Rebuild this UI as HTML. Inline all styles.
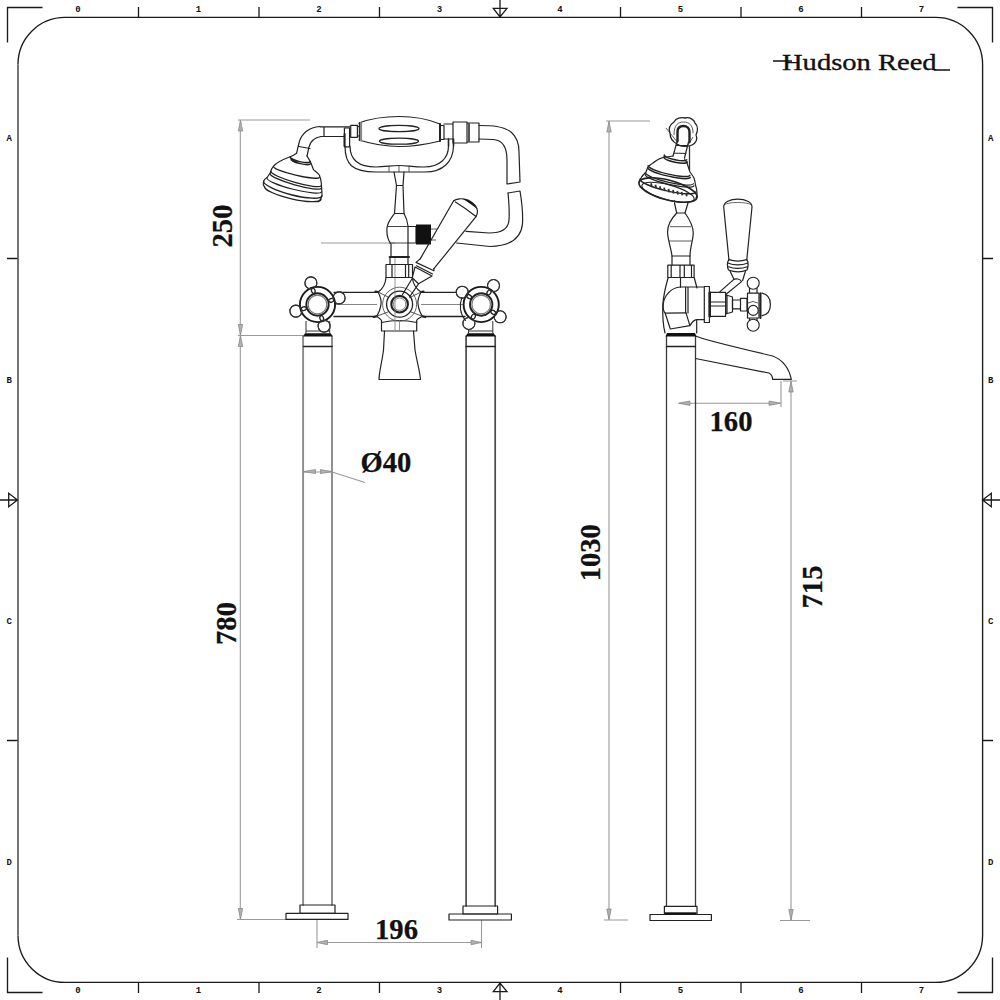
<!DOCTYPE html>
<html><head><meta charset="utf-8">
<style>
html,body{margin:0;padding:0;background:#fff;width:1000px;height:1000px;overflow:hidden}
svg{display:block}
.fr{fill:none;stroke:#1a1a1a;stroke-width:1.35}
.rl{font-family:"Liberation Mono",monospace;font-size:9px;font-weight:bold;fill:#111;text-anchor:middle}
.dm{fill:none;stroke:#9a9a9a;stroke-width:1.1}
.ar{fill:#b0b0b0;stroke:#8a8a8a;stroke-width:0.8}
.tx{font-family:"Liberation Serif",serif;font-weight:bold;font-size:28.6px;fill:#111;stroke:#111;stroke-width:0.25}
.d{fill:none;stroke:#222;stroke-width:1.2;stroke-linejoin:round;stroke-linecap:round}
.dt{fill:none;stroke:#333;stroke-width:0.8}
.k{fill:#111;stroke:none}
</style></head><body>
<svg width="1000" height="1000" viewBox="0 0 1000 1000">
<!-- FRAME -->
<g id="frame">
<path class="fr" d="M65 17.4 H935.5 A47 47 0 0 1 982.6 64.5 V935.5 A47 47 0 0 1 935.5 982.4 H65 A47 47 0 0 1 18 935.5 M18 64.5 A47 47 0 0 1 65 17.4"/>
<path d="M18 64.5 V935.5" stroke="#6e6e6e" stroke-width="1.9" fill="none"/>
<path class="fr" d="M42.5 7.5 H7.5 V42.5 M957.5 7.5 H992.5 V42.5 M42.5 992.5 H7.5 V957.5 M957.5 992.5 H992.5 V957.5"/>
<!-- ticks top/bottom -->
<path class="fr" style="stroke-width:1.3" d="M138.5 7V17.5 M259 7V17.5 M379.5 7V17.5 M620.5 7V17.5 M741 7V17.5 M861.5 7V17.5
M138.5 982.5V993 M259 982.5V993 M379.5 982.5V993 M620.5 982.5V993 M741 982.5V993 M861.5 982.5V993
M7 258.5H17.5 M7 740.5H17.5 M982.5 258.5H993 M982.5 740.5H993"/>
<!-- center arrows -->
<path class="fr" style="stroke-width:1.3" d="M500 0V17 M493.3 8.3H507 L500 17Z M500 1000V983 M493.3 991.7H507 L500 983Z
M0 500H17.5 M8.7 493.3V506.8 L17.5 500Z M1000 500H982.5 M991.3 493.3V506.8 L982.5 500Z"/>
<text class="rl" x="78" y="11.9">0</text>
<text class="rl" x="78" y="992.9">0</text>
<text class="rl" x="198.5" y="11.9">1</text>
<text class="rl" x="198.5" y="992.9">1</text>
<text class="rl" x="319" y="11.9">2</text>
<text class="rl" x="319" y="992.9">2</text>
<text class="rl" x="439.5" y="11.9">3</text>
<text class="rl" x="439.5" y="992.9">3</text>
<text class="rl" x="560" y="11.9">4</text>
<text class="rl" x="560" y="992.9">4</text>
<text class="rl" x="680.5" y="11.9">5</text>
<text class="rl" x="680.5" y="992.9">5</text>
<text class="rl" x="801" y="11.9">6</text>
<text class="rl" x="801" y="992.9">6</text>
<text class="rl" x="921.5" y="11.9">7</text>
<text class="rl" x="921.5" y="992.9">7</text>
<text class="rl" x="9.3" y="141.3">A</text>
<text class="rl" x="990.8" y="141.3">A</text>
<text class="rl" x="9.3" y="382.9">B</text>
<text class="rl" x="990.8" y="382.9">B</text>
<text class="rl" x="9.3" y="624">C</text>
<text class="rl" x="990.8" y="624">C</text>
<text class="rl" x="9.3" y="865">D</text>
<text class="rl" x="990.8" y="865">D</text>
</g>
<!-- LOGO -->
<g id="logo">
<text transform="translate(782,70) scale(1.19,1)" x="0" y="0" style="font-family:'Liberation Serif',serif;font-size:24px;fill:#111;stroke:#111;stroke-width:0.35">Hudson Reed</text>
<path d="M773 61H792 M934 70H950" stroke="#111" stroke-width="1.6"/>
</g>
<!-- DIMENSIONS -->
<g id="dims">
<path class="dm" d="M238 120H310 M240.3 120V335.5 M238 335.5H305 M240.3 335.5V919.5 M237 919.5H286 M321 243H395"/>
<path class="dm" d="M317 920V948 M481.5 920V948 M317 942.5H481.5"/>
<path class="dm" d="M606 121H650 M609 121V920 M604 920H628"/>
<path class="dm" d="M679 403.2H781 M781 381V407 M783 381H797 M791 381V920.5 M780 920.5H810"/>
<path class="dm" d="M332 472L365 482.4 M303.5 472H332"/>
<path class="ar" d="M240.5 120.5L238.3 131.0L242.7 131.0Z M240.5 335L238.3 324.5L242.7 324.5Z M240.5 336L238.3 346.5L242.7 346.5Z M240.5 919L238.3 908.5L242.7 908.5Z M317 942.5L327.5 940.3L327.5 944.7Z M481.5 942.5L471.0 940.3L471.0 944.7Z M609 121.5L606.8 132.0L611.2 132.0Z M609 919.5L606.8 909.0L611.2 909.0Z M678.5 403.2L690.0 401.0L690.0 405.4Z M780.5 403.2L769.0 401.0L769.0 405.4Z M791 381.5L788.8 392.0L793.2 392.0Z M791 920L788.8 909.5L793.2 909.5Z M303.5 471.6L315.5 469.6L315.5 473.6Z M332 471.6L320.5 469.6L320.5 473.6Z"/>
</g>
<g id="dimtext">
<text class="tx" transform="translate(232,226) rotate(-90)" text-anchor="middle">250</text>
<text class="tx" transform="translate(236,623.5) rotate(-90)" text-anchor="middle">780</text>
<text class="tx" transform="translate(599.5,552.7) rotate(-90)" text-anchor="middle">1030</text>
<text class="tx" transform="translate(822,587) rotate(-90)" text-anchor="middle">715</text>
<text class="tx" x="396.5" y="938.6" text-anchor="middle">196</text>
<text class="tx" x="731" y="430.7" text-anchor="middle">160</text>
<text class="tx" x="386" y="472.4" text-anchor="middle">Ø40</text>
</g>
<!-- LEFT VIEW -->
<g id="left">
<path class="d" d="M303.1 336V905 M332 336V905" style="stroke:#8c8c8c;stroke-width:1.9"/>
<path class="d" d="M303.5 346.5H332.2" style="stroke-width:1.3"/>
<path class="k" d="M305.0 333.3H330.7L332.7 336.5H303.0Z"/>
<path class="d" d="M300 905H335V913.4H300Z" />
<path class="d" d="M286 913.4H348V919.4H286Z" />
<path class="dt" d="M306.0 321V333.3 M329.7 321V333.3 M306.0 331H329.7" style="stroke:#333;stroke-width:1"/>
<path class="d" d="M466.1 336V906 M495.2 336V906" style="stroke:#4a4a4a;stroke-width:1.7"/>
<path class="d" d="M466 346.5H495.3" style="stroke-width:1.3"/>
<path class="k" d="M467.5 333.3H493.8L495.8 336.5H465.5Z"/>
<path class="d" d="M463 906H497.6V914H463Z" />
<path class="d" d="M449 914H511.4V920H449Z" />
<path class="dt" d="M468.5 321V333.3 M492.8 321V333.3 M468.5 331H492.8" style="stroke:#333;stroke-width:1"/>
<path class="d" d="M334 292.3H378 M421 292.3H464 M334 316.5H377 M422 316.5H465" style="stroke-width:1.3"/>
<path class="dt" d="M326 304.5H377 M421 304.5H470" style="stroke:#666"/>
<circle cx="310.89" cy="282.89" r="6" fill="#fff" stroke="#333" stroke-width="1.1"/>
<circle cx="339.11" cy="297.89" r="6" fill="#fff" stroke="#333" stroke-width="1.1"/>
<circle cx="324.11" cy="326.11" r="6" fill="#fff" stroke="#333" stroke-width="1.1"/>
<circle cx="295.89" cy="311.11" r="6" fill="#fff" stroke="#333" stroke-width="1.1"/>
<circle cx="317.5" cy="304.5" r="17.6" fill="#fff" stroke="#1a1a1a" stroke-width="1.9"/>
<circle class="d" cx="317.50" cy="304.50" r="11.2" style="stroke-width:1.9"/>
<circle class="dt" cx="317.50" cy="304.50" r="9.3" style="stroke:#777;stroke-width:1.2"/>
<ellipse cx="313.29" cy="290.73" rx="2.6" ry="1.8" transform="rotate(73.0 313.29 290.73)" fill="#fff" stroke="#222" stroke-width="1.3"/>
<circle cx="310.89" cy="282.89" r="6" fill="none" stroke="#333" stroke-width="1.1" stroke-dasharray="0"/>
<ellipse cx="331.27" cy="300.29" rx="2.6" ry="1.8" transform="rotate(163.0 331.27 300.29)" fill="#fff" stroke="#222" stroke-width="1.3"/>
<circle cx="339.11" cy="297.89" r="6" fill="none" stroke="#333" stroke-width="1.1" stroke-dasharray="0"/>
<ellipse cx="321.71" cy="318.27" rx="2.6" ry="1.8" transform="rotate(253.0 321.71 318.27)" fill="#fff" stroke="#222" stroke-width="1.3"/>
<circle cx="324.11" cy="326.11" r="6" fill="none" stroke="#333" stroke-width="1.1" stroke-dasharray="0"/>
<ellipse cx="303.73" cy="308.71" rx="2.6" ry="1.8" transform="rotate(343.0 303.73 308.71)" fill="#fff" stroke="#222" stroke-width="1.3"/>
<circle cx="295.89" cy="311.11" r="6" fill="none" stroke="#333" stroke-width="1.1" stroke-dasharray="0"/>
<circle cx="493.51" cy="285.55" r="6" fill="#fff" stroke="#333" stroke-width="1.1"/>
<circle cx="500.15" cy="316.81" r="6" fill="#fff" stroke="#333" stroke-width="1.1"/>
<circle cx="468.89" cy="323.45" r="6" fill="#fff" stroke="#333" stroke-width="1.1"/>
<circle cx="462.25" cy="292.19" r="6" fill="#fff" stroke="#333" stroke-width="1.1"/>
<circle cx="481.2" cy="304.5" r="17.6" fill="#fff" stroke="#1a1a1a" stroke-width="1.9"/>
<circle class="d" cx="481.20" cy="304.50" r="11.2" style="stroke-width:1.9"/>
<circle class="dt" cx="481.20" cy="304.50" r="9.3" style="stroke:#777;stroke-width:1.2"/>
<ellipse cx="489.04" cy="292.42" rx="2.6" ry="1.8" transform="rotate(123.0 489.04 292.42)" fill="#fff" stroke="#222" stroke-width="1.3"/>
<circle cx="493.51" cy="285.55" r="6" fill="none" stroke="#333" stroke-width="1.1" stroke-dasharray="0"/>
<ellipse cx="493.28" cy="312.34" rx="2.6" ry="1.8" transform="rotate(213.0 493.28 312.34)" fill="#fff" stroke="#222" stroke-width="1.3"/>
<circle cx="500.15" cy="316.81" r="6" fill="none" stroke="#333" stroke-width="1.1" stroke-dasharray="0"/>
<ellipse cx="473.36" cy="316.58" rx="2.6" ry="1.8" transform="rotate(303.0 473.36 316.58)" fill="#fff" stroke="#222" stroke-width="1.3"/>
<circle cx="468.89" cy="323.45" r="6" fill="none" stroke="#333" stroke-width="1.1" stroke-dasharray="0"/>
<ellipse cx="469.12" cy="296.66" rx="2.6" ry="1.8" transform="rotate(393.0 469.12 296.66)" fill="#fff" stroke="#222" stroke-width="1.3"/>
<circle cx="462.25" cy="292.19" r="6" fill="none" stroke="#333" stroke-width="1.1" stroke-dasharray="0"/>
<path class="d" d="M462 297.5 A22.3 22.3 0 0 0 465.5 320.5" style="stroke-width:1.1"/>
<path class="d" d="M386 277.5 C385.5 284 382.5 289 378.2 292 C381 298 381.5 301 381 304.2 C380.5 308 379 313 376.5 316.3 C379 318 381 319.5 381.5 320.5 L381.5 331 H416.7 V320.5 C417 319.5 419 318 422.5 316.3 C420 313 418.5 308 418 304.2 C417.5 301 418 298 421 292 C416.5 289 413 284 412.3 277.5" />
<path class="d" d="M378.2 292 L375.5 291.5 M421 292 L423.5 291.5 M376.5 316.3 L373.8 317 M422.5 316.3 L425.2 317" style="stroke-width:2.2"/>
<path class="d" d="M381.5 322.5 Q399 318.5 416.7 322.5" />
<circle class="dt" cx="399.60" cy="304.20" r="17" style="stroke:#555;stroke-width:0.9"/>
<path class="dt" d="M378.2 292 L388 297 M421 292 L411 297 M376.5 316.3 L388 312 M422.5 316.3 L411 312" style="stroke:#444;stroke-width:0.9"/>
<circle cx="399.6" cy="304.2" r="13" fill="#fff" stroke="#222" stroke-width="1.3"/>
<circle class="d" cx="399.60" cy="304.20" r="8.3" style="stroke-width:2.1"/>
<circle class="dt" cx="399.60" cy="304.20" r="6.2" style="stroke:#666"/>
<path class="dt" d="M399.5 320V331 M395 258V330" style="stroke:#777"/>
<path class="d" d="M384.5 331 L383.5 350 C382 362 379 372 379 379.5 H420.5 C420 372 417 362 415 350 L413.5 331" />
<path class="d" d="M386 264.5H412.5V277.5H386Z M390 257V264.5 M408 257V264.5 M389 257H409 M405.5 264.5V277.5 M408.7 264.5V277.5 M392 264.5V277.5" />
<path class="d" d="M394.5 213.5 C391 218 387.5 222 387 228 C386.5 234 388 240 391 244 L391 257 M404 213.5 C406 217 407.5 221 408 226 L408 257 M394.5 213.5H404" />
<path class="dt" d="M387.5 226.5H408 M389 243H408" style="stroke:#444;stroke-width:1"/>
<path class="d" d="M390 257H409" style="stroke-width:1.8"/>
<path class="d" d="M394 172 L396.5 185.5 L394.5 213.5 M404 172 L403 185.5 L404 213.5 M396.5 185.5H403" />
<path class="d" d="M408 226.5H416V243H408" />
<path class="k" d="M416 224.5H431V244.5H416Z"/>
<path class="dt" d="M431 229H437 M431 240H436" />
<path class="d" d="M453.5 201 L420.2 258.9 M476 216.7 L433.9 268.7" />
<path class="d" d="M453.5 201 C456 198.5 462 198 468 200 C473 202.5 477 207 477.5 211 C477.5 214 476.5 216 476 216.7 M455.5 202 C462 206 469 211 476 216.5" />
<path class="k" d="M462 198.6 C469 199.5 475 204 476.5 208.5 C472 205 467 201.5 462 198.6Z"/>
<path class="d" d="M416 262.4 L433.9 270.8 M416 262.4 L420.2 258.9 M433.9 270.8 L433.9 268.7 M416.5 265.8 L432.5 274 M415 267 L432 276 M415 267 L412.2 277.8 M432 276 L418.5 283.8 M412.2 277.8 L418.5 283.8 M412.2 278.5 L402.4 294.8 M418.5 283.8 L409.5 297" />
<path class="d" d="M479 125.5 C492 125.5 503 126 511 132 C517 137 519 145 519 152 L520 182 L507 184 L507 160 C507 148 503 140 493 139.5 L479 139" />
<path class="d" d="M508 193 L520 191 C522 203 523 215 522.5 224 C521 238 510 246 490 246.5 L456.5 243" />
<path class="d" d="M508 193 C509 203 509.5 213 509 220 C508.5 229 502 233 489 233 L466 231.3" />
<path class="d" d="M359 123 C372 118 385 116.5 399 116.5 C413 116.5 428 119 440 124 M359 140 C375 145 388 146.5 399 146.5 C412 146.5 428 144 440 141" />
<path class="d" d="M359.5 123V140" style="stroke-width:1.4"/>
<path class="d" d="M361 123V140.5" style="stroke:#888;stroke-width:2.2"/>
<path class="d" d="M440 124V141" style="stroke-width:2"/>
<ellipse class="d" cx="399" cy="128.5" rx="20" ry="3.2" transform="rotate(0 399 128.5)" style="stroke-width:1.3"/>
<ellipse class="d" cx="399" cy="141.2" rx="19.5" ry="3" transform="rotate(0 399 141.2)" style="stroke-width:1.3"/>
<path class="d" d="M350.7 125.4H357.4V137.3H350.7Z M357.4 126.5H359.5 M357.4 136H359.5" />
<path class="d" d="M440.5 125.5H444V139.5H440.5 M444 124H453V139H444 M453 122H467V143H453Z M467 123H479V142H467 M479 123V142" />
<path class="dt" d="M469 123V142" style="stroke:#555;stroke-width:2"/>
<path class="d" d="M344.4 128H349.6V146.8H344.4Z" />
<path class="d" d="M344.6 134V146" style="stroke-width:2"/>
<path class="d" d="M345 146 C345 164 352 172 376 172 L425 172 C443 172 453 162 453.5 146 M350 146 C350 159 357 167 376 167 C385 167 391 165.5 399 165.5 C407 165.5 413 167 424 167 C440 167 448.5 158 448.5 146" />
<path class="d" d="M448.5 139V146 M453.5 139V146" style="stroke-width:1.6"/>
<path class="dt" d="M389 166V172 M409 166V172 M399 165.5V172" />
<path class="d" d="M320 126.8H350 M321 136.5H344.4 M324 126.8V136.5" />
<path class="d" d="M320 126.5 C309 127 301 134 299 143 L296.6 153.2 M321 136.5 C315 137.5 310.5 141 309 147 L307 156 M299 146.5 L310 148.5" />
<path class="d" d="M296.6 153.2 C294 155 292 156 290.2 156.8 C283 159.5 276 162.5 273.4 166.4 C271.5 168.5 271 170 270.6 172 C269.5 174.5 268 176 267 177.6 C265 178.8 263.8 180 263.4 182 C263 184 263.5 186 264.5 187" />
<path class="d" d="M307 156 C308.5 158.5 309.8 160.5 310.2 161.6 C311.5 164 312.5 167 313.4 169.6 C315.5 171.5 318 173 319.4 175.2 C320.5 178 321 180 321.2 182.5 C321.5 186 321.8 190 322 194 C322 197 320.5 200 318.2 201.8" />
<path class="d" d="M290.2 156.8 A10.28 2.5 13.50 0 0 310.2 161.6 M291 158.8 A10.09 2.5 13.76 0 0 310.6 163.6" style="stroke-width:1.5"/>
<path class="d" d="M273.4 166.4 A23.63 3.5 13.21 0 0 319.4 177.2" />
<path class="d" d="M271 171.4 A26.02 4 16.07 0 0 321 185.8 M270.4 173.8 A26.40 4 15.83 0 0 321.2 188.2" style="stroke-width:1.3"/>
<path class="d" d="M267 178 A28.06 4.5 14.23 0 0 321.4 191.8" />
<path class="d" d="M263.6 181 A30.15 6.5 14.40 0 0 322 196" style="stroke-width:1.4"/>
<path class="d" d="M264.5 186.5 A28.99 6 12.96 0 0 321 199.5" style="stroke-width:1.3"/>

</g>
<!-- RIGHT VIEW -->
<g id="right">
<path class="d" d="M666.5 336V906.3 M695.5 336V906.3" style="stroke:#3a3a3a;stroke-width:1.3"/>
<path class="d" d="M666.4 346.5H695.5" style="stroke-width:1.3"/>
<path class="k" d="M667 333H695L696.5 336.5H665.5Z"/>
<path class="d" d="M664.4 906.3H697V914.5H664.4Z M650 914.5H711.4V920.5H650Z" />
<path class="k" d="M665 912.3H696.5V914.5H665Z"/>
<path class="d" d="M695.5 336 C702 339 730 346 772.6 356 C783 360 789 368 791.3 379.4 M695.5 358.5 L769 373 C771 374 772.5 376 772.7 379.4 L791.3 379.4" />
<path class="d" d="M668.2 277.5 C666 285 663.5 295 662.8 305 C662.5 315 663 325 665 333 M694.2 277.5 L697 288 M680.5 277.5V287" />
<path class="d" d="M680.5 287 C671 287.5 663.5 296 663.2 305 C663 309 664 312 665.2 313.2 L686 312.8" />
<path class="d" d="M685.6 287V313 M688 287V313 M680.5 287H703.5" />
<path class="d" d="M686 312.8 L689.9 325.6 C692 322 694 320 696.7 319.6 L704.3 319.6 M665.2 313.2 L670.3 329 L689.9 325.6 M696.7 319.6V333" />
<path class="d" d="M667.8 265.2H694.1V277.5H667.8Z M671.2 265.2V277.5 M680 265.2V277.5 M684.3 265.2V277.5 M691.5 265.2V277.5" />
<path class="d" d="M672 256H690 M672 256V264.8 M690 256V264.8" />
<path class="d" d="M676.7 213 C670 220 667 228 667.7 234 C668 240 671 248 672 256 M685 213 C690 220 693.5 228 693.2 234 C693 240 690 248 690 256 M676.7 213H685" />
<path class="dt" d="M670 226.7H691 M669 241H692" />
<path class="d" d="M674.5 203 L676.7 213 M688 203 L685 213" />
<path class="d" d="M704.3 286.5H709.4V322.5H704.3Z" />
<path class="d" d="M709 292.4H725.6V316.4H709Z M709 302H725.6 M709 306H725.6" style="stroke-width:1.1"/>
<path class="d" d="M710 292.4V316.4" style="stroke-width:2"/>
<path class="d" d="M725.6 294.8 L732.5 297 V312 L725.6 314Z M727 295.5V313.5" />
<path class="d" d="M732.5 300H740.5V308.8H732.5Z M740.5 298.4H747V311H740.5Z" />
<path class="d" d="M747.5 293.2H759V318H747.5Z M749.5 288V293.2 M757 288V293.2 M749.5 318V321 M757 318V321" />
<path class="d" d="M762 293.2 C768 294.5 770.4 299 770.4 304.4 C770.4 310 768 314.5 762 315.6" style="stroke-width:1.2"/>
<path class="d" d="M760.5 293.2V318" style="stroke-width:2"/>
<circle cx="753.2" cy="283.2" r="6" fill="#fff" stroke="#222" stroke-width="1.1"/>
<circle cx="753.2" cy="325.2" r="6" fill="#fff" stroke="#222" stroke-width="1.1"/>
<circle cx="753.2" cy="310.4" r="5" fill="#fff" stroke="#222" stroke-width="1.1"/>
<path class="dt" d="M748 303 Q753 300 758 303" />
<path class="d" d="M720 291.6 L733.6 279.6 C736 278 740 279 741.6 281.6 L726.4 294" />
<path class="d" d="M723.7 207 C723.7 202 730 199.2 737.8 199.2 C745.5 199.2 752 202 752 207 L746.8 259.6 M723.7 207 L728.9 259.6" />
<path class="dt" d="M724.5 204.5 C730 201.8 745 201.8 751.2 204.5" style="stroke:#444"/>
<path class="d" d="M728.9 259.6 C727 262 727 267 728.5 270 C735 272.5 741 272.5 747 270 C748.5 267 748.5 262 746.8 259.6 Q737.8 262.5 728.9 259.6 M727.6 263 Q737.8 266.8 748 263 M727.8 266.5 Q737.8 270.3 748 266.5" />
<path class="d" d="M730 271 L734 279.5 M745.5 271 L742.6 280.5" />
<path class="d" d="M670 133 C668 128 671 124 674 122 C676 118 681 117 685 118 C689 117 694 119 695 123 C698 126 698 131 696 135 C698 139 696 143 692 145 C688 147 680 147 677 144 C673 142 670 138 670 133Z" style="stroke-width:1.3"/>
<path class="d" d="M677.5 141 V132 C677.5 128 680 126 683.5 126 C687 126 689.5 128.5 689.5 132 V142" style="stroke-width:2.4"/>
<path class="dt" d="M674 135 C674 125 678 122 683.5 122 C689 122 693 125 693 133 M666 128 L678 143 M693 137 L688 145" />
<path class="d" d="M677.5 140 L673 156 M688.5 142 L684.5 158 M676 145.5 L688 145.5 M674 153 L686 153.5" />
<path class="dt" d="M689.5 146 V170" style="stroke-width:1.3"/>
<path class="d" d="M673 156 C668 157 665 157 663 157.5 C658 159 655 161 653 163 C650 165 648.5 166 648 167 C647 169 646.5 171 646 172 C644 174 642 176 641 178 C640 179.5 639.2 180.5 639 182" />
<path class="d" d="M684.5 159 C685.5 160.5 686.5 162 687 163 C688 166 689 169 690 172 C691.5 174 693 176 694 178 C695 181 695.3 183 695.5 185 C696.5 188 697 191 697 193 C697 195 696.5 197 696 198" />
<ellipse class="d" cx="668" cy="190" rx="30" ry="9.8" transform="rotate(15 668 190)" style="stroke-width:1.7"/>
<ellipse class="d" cx="668" cy="192.3" rx="27" ry="7.4" transform="rotate(15 668 192.3)" style="stroke-width:1.1"/>
<path class="d" d="M640.2 179.1 A28.5 5.5 13 0 0 695.8 191.9" style="stroke-width:1.5"/>
<path class="d" d="M645.6 172.5 A24.5 4.5 13 0 0 693.4 183.5 M645.1 174.4 A25 4.5 13 0 0 693.9 185.6" style="stroke-width:1.2"/>
<path class="d" d="M648.1 165.7 A21.5 4 13 0 0 689.9 175.3 M647.6 167.6 A22 4 13 0 0 690.4 177.4" style="stroke-width:1.3"/>
<path class="d" d="M664.3 155.1 A11.5 2.5 12 0 0 686.7 159.9 M663.8 157.0 A12 3 12 0 0 687.2 162.0" style="stroke-width:1.6"/>
<path d="M651.0 183.3l0.8 3.5" stroke="#333" stroke-width="1.8"/>
<path d="M655.4 184.8l0.8 3.5" stroke="#333" stroke-width="1.8"/>
<path d="M659.8 186.2l0.8 3.5" stroke="#333" stroke-width="1.8"/>
<path d="M664.1 187.6l0.8 3.5" stroke="#333" stroke-width="1.8"/>
<path d="M668.5 188.9l0.8 3.5" stroke="#333" stroke-width="1.8"/>
<path d="M672.9 190.0l0.8 3.5" stroke="#333" stroke-width="1.8"/>
<path d="M677.2 191.0l0.8 3.5" stroke="#333" stroke-width="1.8"/>
<path d="M681.6 191.9l0.8 3.5" stroke="#333" stroke-width="1.8"/>
<path d="M686.0 192.8l0.8 3.5" stroke="#333" stroke-width="1.8"/>
<path class="dt" d="M674.5 200 V203 M688 201 V203" />

</g>
</svg>
</body></html>
